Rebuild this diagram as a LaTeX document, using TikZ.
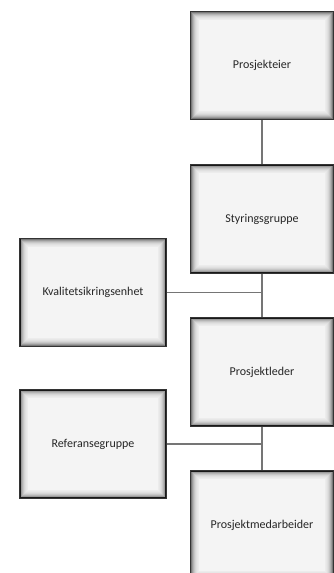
\documentclass[tikz,border=0pt]{standalone}
\usepackage{fontspec}
\setmainfont{Carlito}
\definecolor{boxfill}{HTML}{F4F4F4}
\definecolor{boxline}{HTML}{333333}
\definecolor{linkline}{HTML}{757575}
\tikzset{
  orgbox/.style={draw=boxline, line width=1.7pt, fill=boxfill, rectangle,
    inner sep=0pt, font=\fontsize{12}{14}\selectfont, text=black!85},
  rightbox/.style={orgbox, minimum width=143pt, minimum height=108pt},
  leftbox/.style={orgbox, minimum width=146pt, minimum height=108pt},
  link/.style={draw=linkline, line width=1.8pt}
}
\begin{document}
\begin{tikzpicture}[x=1pt, y=-1pt]
  \useasboundingbox (0,0) rectangle (334,573);
  \clip (0,0) rectangle (334,573);
  % organisation chart boxes
  \node[rightbox] (pe) at (262,65.5) {Prosjekteier};
  \node[rightbox] (sg) at (262,219) {Styringsgruppe};
  \node[leftbox]  (kq) at (93,292.5) {Kvalitetsikringsenhet};
  \node[rightbox] (pl) at (262,372) {Prosjektleder};
  \node[leftbox]  (rg) at (93,444) {Referansegruppe};
  \node[rightbox] (pm) at (262,525) {Prosjektmedarbeider};
  % soft inner shadow along the inside of each box
  \foreach \n in {pe,sg,kq,pl,rg,pm}{
    \foreach \i/\o in {1.5/0.50,2.5/0.36,3.5/0.26,4.5/0.18,5.5/0.12,6.5/0.08,7.5/0.05,8.5/0.03}{
      \draw[black, opacity=\o, line width=1pt]
        ([xshift=\i pt, yshift=-\i pt]\n.north west) rectangle
        ([xshift=-\i pt, yshift=\i pt]\n.south east);
    }
  }
  % connectors
  \draw[link] (pe.south) -- (sg.north);
  \draw[link] (sg.south) -- (pl.north);
  \draw[link] (kq.east) -- (kq.east -| sg.south);
  \draw[link] (pl.south) -- (pm.north);
  \draw[link] (rg.east) -- (rg.east -| pl.south);
\end{tikzpicture}
\end{document}
